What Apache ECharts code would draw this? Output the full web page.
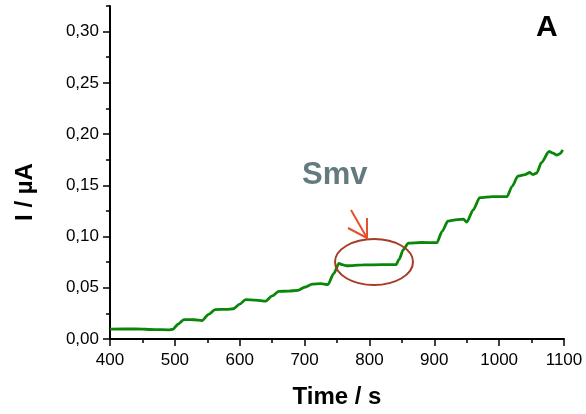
<!DOCTYPE html>
<html>
<head>
<meta charset="utf-8">
<script src="https://cdn.jsdelivr.net/npm/echarts@6/dist/echarts.min.js"></script>
<style>
  html, body { margin: 0; padding: 0; background: #fff; }
  #main { width: 586px; height: 414px; }
</style>
</head>
<body>
<div id="main"></div>
<script>
// time (s) and current (uA)
var times = [400, 440, 470, 490, 497, 505, 514, 530, 542, 552, 562, 580, 590, 600, 609, 625, 640, 650, 660, 675,
  690, 700, 712, 725, 736, 745, 753, 758, 765, 790, 820, 841, 846, 852, 860, 880, 904, 912, 921, 935,
  945, 950, 960, 970, 990, 1012, 1020, 1029, 1040, 1047, 1052, 1058, 1065, 1077, 1083, 1089, 1094, 1098];
var current = [0.0097, 0.0098, 0.0092, 0.0090, 0.0095, 0.0145, 0.0190, 0.0188, 0.0180, 0.0240, 0.0287, 0.0290, 0.0295, 0.0340, 0.0385, 0.0380, 0.0370, 0.0420, 0.0465, 0.0467,
  0.0475, 0.0505, 0.0535, 0.0540, 0.0530, 0.0640, 0.0738, 0.0725, 0.0715, 0.0723, 0.0725, 0.0725, 0.0780, 0.0870, 0.0935, 0.0942, 0.0940, 0.1050, 0.1150, 0.1165,
  0.1170, 0.1140, 0.1260, 0.1380, 0.1390, 0.1390, 0.1490, 0.1590, 0.1605, 0.1625, 0.1605, 0.1620, 0.1720, 0.1830, 0.1815, 0.1795, 0.1810, 0.1846];
var yMajorTicks = [0, 0.05, 0.10, 0.15, 0.20, 0.25, 0.30];

var fontFam = 'Liberation Sans, Arial, sans-serif';

var data = [];
for (var i = 0; i < times.length; i++) {
  data.push([times[i], current[i]]);
}

var myChart = echarts.init(document.getElementById('main'));

var option = {
  backgroundColor: '#ffffff',
  animation: false,
  grid: { left: 110, right: 22, top: 6, bottom: 71 },
  xAxis: {
    type: 'value',
    min: 400,
    max: 1100,
    interval: 100,
    name: 'Time / s',
    nameLocation: 'middle',
    nameGap: 46,
    nameTextStyle: { fontFamily: fontFam, fontSize: 24, fontWeight: 'bold', color: '#000' },
    axisLine: { lineStyle: { color: '#000', width: 2 } },
    axisTick: { length: 7, lineStyle: { color: '#000', width: 1.5 } },
    minorTick: { show: true, splitNumber: 2, length: 4, lineStyle: { color: '#000', width: 1.5 } },
    axisLabel: {
      fontFamily: fontFam, fontSize: 17, color: '#000', margin: 13,
      formatter: function (v) { return String(v); }
    },
    splitLine: { show: false }
  },
  yAxis: [{
    type: 'value',
    min: 0,
    max: 0.325,
    axisLine: { show: true, lineStyle: { color: '#000', width: 2 } },
    axisTick: { show: true, length: 7, customValues: yMajorTicks, lineStyle: { color: '#000', width: 1.5 } },
    axisLabel: {
      fontFamily: fontFam, fontSize: 17, color: '#000', margin: 11,
      customValues: yMajorTicks,
      formatter: function (v) { return v.toFixed(2).replace('.', ','); }
    },
    splitLine: { show: false }
  }, {
    // minor ticks only
    type: 'value',
    position: 'left',
    min: 0,
    max: 0.325,
    interval: 0.025,
    axisLine: { show: false },
    axisTick: { show: true, length: 4, lineStyle: { color: '#000', width: 1.5 } },
    axisLabel: { show: false },
    splitLine: { show: false }
  }],
  series: [{
    type: 'line',
    data: data,
    showSymbol: false,
    smooth: 0.25,
    smoothMonotone: 'x',
    lineStyle: { color: '#0a870a', width: 2.8 },
    z: 3
  }],
  graphic: [
    {
      type: 'text', x: 25, y: 192, rotation: Math.PI / 2,
      style: { text: 'I / µA', fontFamily: fontFam, fontSize: 24, fontWeight: 'bold', fill: '#000', align: 'center', verticalAlign: 'middle' }
    },
    {
      type: 'text', left: 536, top: 13,
      style: { text: 'A', fontFamily: fontFam, fontSize: 30, fontWeight: 'bold', fill: '#000' }
    },
    {
      type: 'text', left: 302, top: 160,
      style: { text: 'Smv', fontFamily: fontFam, fontSize: 31, fontWeight: 'bold', fill: '#627a80' }
    },
    {
      type: 'ellipse',
      shape: { cx: 374, cy: 262, rx: 39, ry: 23 },
      style: { fill: 'none', stroke: '#a83a28', lineWidth: 2 },
      z: 10
    },
    {
      type: 'polyline',
      shape: { points: [[351, 210], [367, 238]] },
      style: { stroke: '#e2502e', lineWidth: 2, fill: 'none' },
      z: 10
    },
    {
      type: 'polyline',
      shape: { points: [[348, 228], [367, 238], [367, 218]] },
      style: { stroke: '#e2502e', lineWidth: 2, fill: 'none' },
      z: 10
    }
  ]
};

myChart.setOption(option);
</script>
</body>
</html>
